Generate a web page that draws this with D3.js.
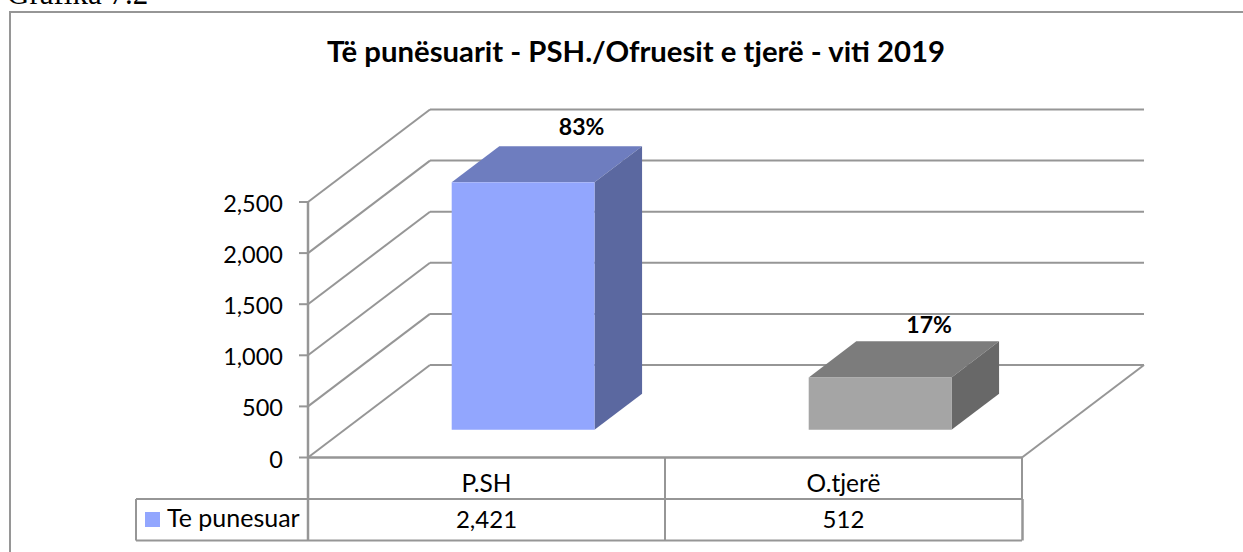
<!DOCTYPE html>
<html><head><meta charset="utf-8">
<script src="https://cdnjs.cloudflare.com/ajax/libs/d3/7.8.5/d3.min.js"></script>
<style>html,body{margin:0;padding:0;background:#fff;overflow:hidden}svg{display:block}</style>
</head><body><svg id="c" width="1243" height="552"></svg>
<script>
const caption = "Grafika 7.2";
const chartTitle = "Të punësuarit - PSH./Ofruesit e tjerë - viti 2019";
const categories = ["P.SH", "O.tjerë"];
const seriesName = "Te punesuar";
const values = [2421, 512];
const valueLabels = ["2,421", "512"];
const shares = ["83%", "17%"];
const yTicks = [0, 500, 1000, 1500, 2000, 2500];

const svg = d3.select("#c");
const axisC = "#969696", ff = "Lato, Carlito, sans-serif";
const dx = 122, dy = -92.5;
const y = d3.scaleLinear().domain([0, 2500]).range([457.5, 202]);
const x = d3.scaleBand().domain(categories).range([308, 1022]);
const colors = [{f:"#92a6fe",t:"#6e7dbf",s:"#5b68a0"},{f:"#a5a5a5",t:"#7c7c7c",s:"#686868"}];
const labelStyle = [{ox:58.5,oy:-11},{ox:49,oy:-8}];
const line = (x1,y1,x2,y2,w=2) => svg.append("line").attr("x1",x1).attr("y1",y1).attr("x2",x2).attr("y2",y2).attr("stroke",axisC).attr("stroke-width",w);
const text = (s,px,py,size,anchor="middle",weight=400) => svg.append("text").text(s).attr("x",px).attr("y",py).attr("font-family",ff).attr("font-size",size).attr("font-weight",weight).attr("text-anchor",anchor).attr("fill","#000");

svg.append("text").text(caption).attr("x",7).attr("y",4).attr("font-family","'Liberation Serif',serif").attr("font-size",31).attr("fill","#000");
svg.append("rect").attr("x",10).attr("y",12).attr("width",1260).attr("height",580).attr("fill","#fff").attr("stroke",axisC).attr("stroke-width",2);
text(chartTitle,636,62,29.3,"middle",700);

// walls, gridlines, ticks
yTicks.forEach(t=>{
  line(308,y(t),308+dx,y(t)+dy);
  line(308+dx,y(t)+dy,1022+dx,y(t)+dy);
  line(299,y(t),308,y(t));
  text(d3.format(",")(t),283,y(t)+10,23.5,"end");
});
line(1022,457.5,1022+dx,457.5+dy);
line(308,202,308,541,2.5);
line(308,457.5,1022,457.5,2.5);

// 3D bars
const barFrac = 0.4, zStart = 0.3, zDepth = 0.39;
categories.forEach((c,i)=>{
  const w = x.bandwidth()*barFrac;
  const x0 = x(c)+(x.bandwidth()-w)/2+dx*zStart, off = dy*zStart;
  const b = y(0)+off, top = y(values[i])+off;
  const ox = dx*zDepth, oy = dy*zDepth;
  const col = colors[i];
  const poly = (pts,fill)=>svg.append("polygon").attr("points",pts.map(p=>p.join(",")).join(" ")).attr("fill",fill);
  poly([[x0,top],[x0+ox,top+oy],[x0+w+ox,top+oy],[x0+w,top]],col.t);
  poly([[x0+w,top],[x0+w+ox,top+oy],[x0+w+ox,b+oy],[x0+w,b]],col.s);
  svg.append("rect").attr("x",x0).attr("y",top).attr("width",w).attr("height",b-top).attr("fill",col.f);
  text(shares[i],x0+w/2+labelStyle[i].ox,top+oy+labelStyle[i].oy,23,"middle",700);
});

// data table
const rowMid = 499, tableBottom = 540.5, tableLeft = 136;
line(1022,457.5,1022,rowMid,2);
line(1022.5,rowMid,1022.5,tableBottom,2.5);
line(x(categories[1]),457.5,x(categories[1]),tableBottom,2);
line(tableLeft,rowMid,1022,rowMid,2);
line(tableLeft,tableBottom,1022,tableBottom,2);
line(tableLeft,rowMid,tableLeft,tableBottom,2);
categories.forEach((c,i)=>{
  text(c,x(c)+x.bandwidth()/2,492,24.5);
  text(valueLabels[i],x(c)+x.bandwidth()/2,528,24);
});
svg.append("rect").attr("x",145).attr("y",512).attr("width",15).attr("height",15).attr("fill",colors[0].f);
text(seriesName,167,527,25,"start");
</script></body></html>
